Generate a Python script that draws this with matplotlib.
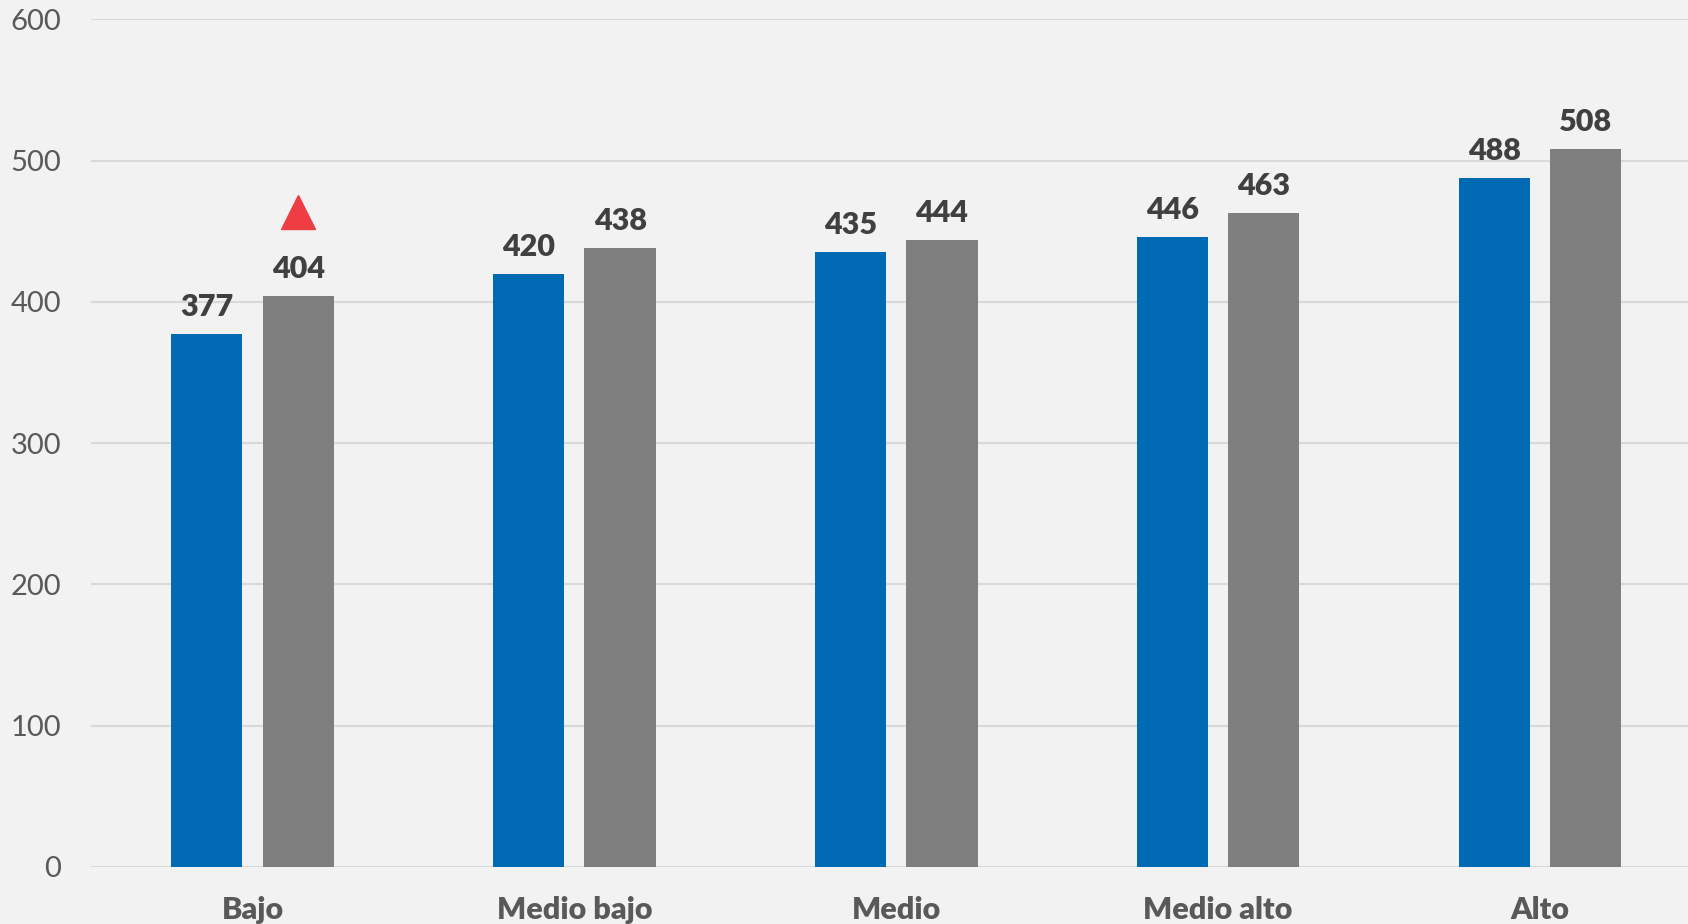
import matplotlib
matplotlib.use('agg')
import matplotlib.pyplot as plt
import numpy as np

categories = ['Bajo', 'Medio bajo', 'Medio', 'Medio alto', 'Alto']
serie_a = [377, 420, 435, 446, 488]
serie_b = [404, 438, 444, 463, 508]
# marca de diferencia significativa (solo en "Bajo", serie b)
marker_idx = 0
marker_y = 464
yticks = [0, 100, 200, 300, 400, 500, 600]

plt.rcParams['font.family'] = ['Lato', 'DejaVu Sans']

fig = plt.figure(figsize=(16.88, 9.24), dpi=100)
fig.patch.set_facecolor('#F2F2F2')
ax = fig.add_axes([0.0542, 0.0617, 0.9535, 0.9173])
ax.set_facecolor('#F2F2F2')

x = np.arange(len(categories))
w = 0.221
off = 0.142
ax.bar(x - off, serie_a, w, color='#006AB5', zorder=3)
ax.bar(x + off, serie_b, w, color='#7F7F7F', zorder=3)

for xi, v in zip(x - off, serie_a):
    ax.annotate(str(v), (xi, v), xytext=(0, 13), textcoords='offset points',
                ha='center', va='baseline', fontsize=22, fontweight='heavy',
                color='#404040')
for xi, v in zip(x + off, serie_b):
    ax.annotate(str(v), (xi, v), xytext=(0, 13), textcoords='offset points',
                ha='center', va='baseline', fontsize=22, fontweight='heavy',
                color='#404040')

ax.plot([x[marker_idx] + off], [marker_y], marker='^', markersize=24,
        color='#EE3E44', linestyle='none', zorder=4)

ax.set_xlim(-0.5, len(categories) - 0.5)
ax.set_ylim(0, 600)
ax.set_yticks(yticks)
ax.set_xticks(x)
ax.set_xticklabels(categories, fontsize=22, fontweight='heavy', color='#595959')
ax.tick_params(axis='x', length=0, pad=21)
ax.tick_params(axis='y', length=0, pad=22, labelsize=21, labelcolor='#595959')

for s in ['top', 'right', 'left', 'bottom']:
    ax.spines[s].set_visible(False)
ax.yaxis.grid(True, color='#D9D9D9', linewidth=1.5)
ax.set_axisbelow(True)

fig.savefig('out.png', dpi=100, facecolor=fig.get_facecolor())
plt.close()
